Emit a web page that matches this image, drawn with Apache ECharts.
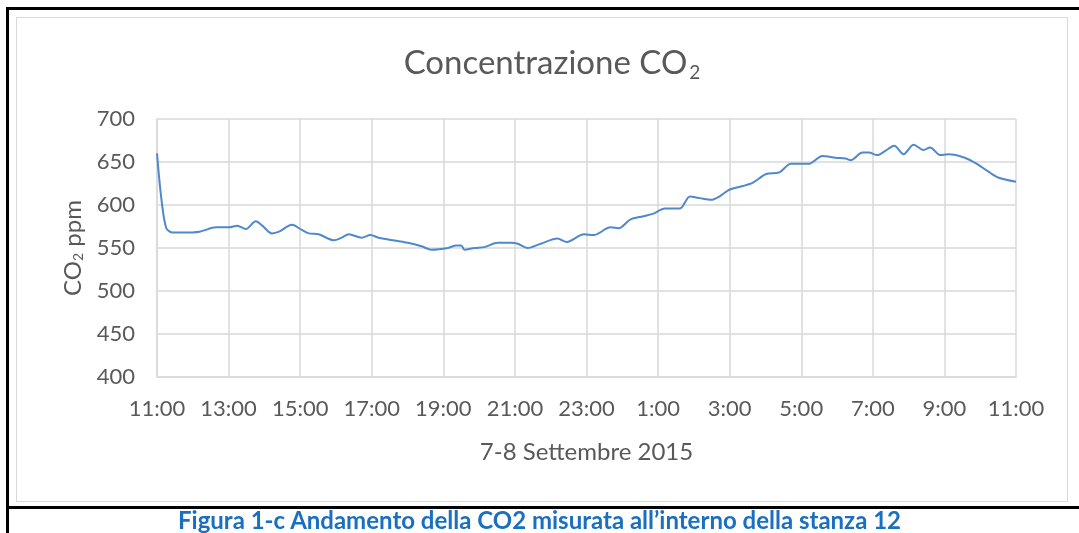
<!DOCTYPE html>
<html>
<head>
<meta charset="utf-8">
<script src="https://cdn.jsdelivr.net/npm/echarts@6/dist/echarts.min.js"></script>
<style>
  body { margin: 0; background: #fff; }
  .page { position: relative; width: 1079px; height: 533px; overflow: hidden; }
  .frame { position: absolute; left: 6px; top: 7px; width: 1080px; height: 496px; border: 3px solid #000; border-right: none; }
  .frame-left { position: absolute; left: 6px; top: 7px; width: 3px; height: 526px; background: #000; }
  .chart-box { position: absolute; left: 16px; top: 17px; width: 1050px; height: 483px; border: 1px solid #d9d9d9; }
  #chart { position: absolute; left: 0; top: 0; width: 1079px; height: 533px; }
  .caption { position: absolute; left: 0; top: 505px; width: 1079px; text-align: center;
    font-family: Lato, 'Open Sans', sans-serif; font-weight: bold; font-size: 24px; color: #1a6fc0; }
</style>
</head>
<body>
<div class="page">
  <div class="frame"></div>
  <div class="frame-left"></div>
  <div class="chart-box"></div>
  <div id="chart"></div>
  <div class="caption">Figura 1-c Andamento della CO2 misurata all’interno della stanza 12</div>
</div>
<script>
// ore trascorse dalle 11:00 del 7 settembre
const hours = [
  0, 0.12, 0.26, 0.44, 0.72, 1.19, 1.65, 2.02, 2.24, 2.48, 2.76, 2.94, 3.21, 3.41, 3.77,
  4.05, 4.24, 4.52, 4.94, 5.16, 5.36, 5.72, 5.96, 6.19, 6.46, 7.01, 7.39, 7.67, 8.13, 8.36,
  8.5, 8.59, 8.87, 9.15, 9.52, 9.89, 10.08, 10.35, 10.72, 11.19, 11.45, 11.93, 12.2, 12.67,
  12.9, 13.22, 13.59, 13.87, 14.19, 14.61, 14.89, 15.17, 15.49, 15.72, 16.0, 16.37, 16.65,
  17.02, 17.39, 17.71, 18.22, 18.59, 18.96, 19.24, 19.38, 19.71, 19.89, 20.12, 20.35, 20.6,
  20.86, 21.14, 21.42, 21.6, 21.88, 22.11, 22.57, 22.94, 23.22, 23.5, 24
]
const co2 = [
  660, 608, 573, 568, 568, 569, 574, 574, 576, 572, 581, 576, 567, 569, 577,
  571, 567, 566, 559, 562, 566, 562, 565, 562, 560, 556, 552, 548, 550, 553,
  553, 548, 550, 551, 556, 556, 555, 550, 555, 561, 557, 566, 565, 574,
  573, 583, 587, 590, 596, 596, 610, 608, 606, 610, 618, 622, 626,
  636, 638, 648, 648, 657, 655, 654, 652, 661, 661, 658, 663, 669,
  659, 670, 664, 667, 658, 659, 655, 647, 639, 632, 627
]
const xTickLabels = ['11:00', '13:00', '15:00', '17:00', '19:00', '21:00', '23:00',
  '1:00', '3:00', '5:00', '7:00', '9:00', '11:00']

const font = 'Lato, "Open Sans", sans-serif'
const grey = '#d9d9d9'

const chart = echarts.init(document.getElementById('chart'))
chart.setOption({
  title: {
    text: '{a|Concentrazione CO}{s|2}',
    left: 547,
    top: 40,
    textAlign: 'center',
    textStyle: {
      rich: {
        a: { fontFamily: font, fontSize: 33, fontWeight: 'normal', color: '#595959' },
        s: { fontFamily: font, fontSize: 19, fontWeight: 'normal', color: '#595959', padding: [18, 0, 0, 2] }
      }
    }
  },
  grid: { left: 157, right: 63, top: 119, bottom: 156 },
  xAxis: {
    type: 'value',
    min: 0,
    max: 24,
    interval: 2,
    name: '7-8 Settembre 2015',
    nameLocation: 'middle',
    nameGap: 63,
    nameTextStyle: { fontFamily: font, fontSize: 24, color: '#595959' },
    axisLine: { lineStyle: { color: grey, width: 1.5 } },
    axisTick: { show: false },
    axisLabel: {
      margin: 21,
      fontFamily: font,
      fontSize: 22,
      color: '#595959',
      formatter: function(v) { return xTickLabels[Math.round(v / 2)] }
    },
    splitLine: { show: true, lineStyle: { color: grey, width: 1.5 } }
  },
  yAxis: {
    type: 'value',
    min: 400,
    max: 700,
    interval: 50,
    name: '{a|CO}{s|2}{a| ppm}',
    nameLocation: 'middle',
    nameGap: 67,
    nameTextStyle: {
      rich: {
        a: { fontFamily: font, fontSize: 24, color: '#595959' },
        s: { fontFamily: font, fontSize: 14, color: '#595959', padding: [12, 0, 0, 0] }
      }
    },
    axisLine: { show: true, lineStyle: { color: grey, width: 1.5 } },
    axisTick: { show: false },
    axisLabel: { margin: 22, fontFamily: font, fontSize: 22, color: '#595959' },
    splitLine: { lineStyle: { color: grey, width: 1.5 } }
  },
  series: [
    {
      type: 'line',
      data: hours.map((h, i) => [h, co2[i]]),
      showSymbol: false,
      smooth: 0.3,
      lineStyle: { color: '#4f88cc', width: 2 }
    }
  ]
})
</script>
</body>
</html>
